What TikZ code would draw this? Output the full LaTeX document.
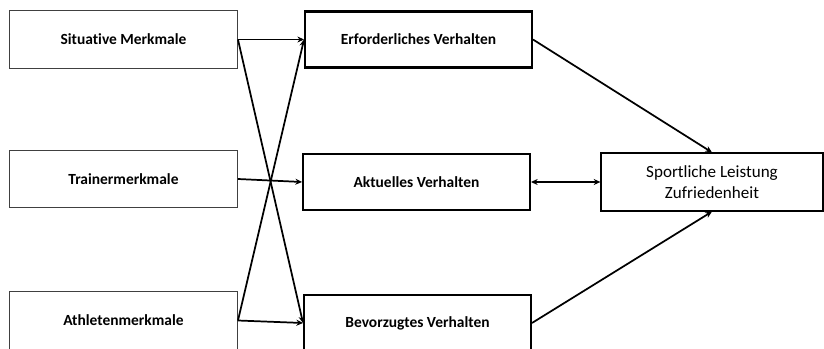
\documentclass[tikz,border=0pt]{standalone}
\usepackage{fontspec}
\setmainfont{Carlito}[Ligatures=NoCommon]
\usepackage{tikz}
\usetikzlibrary{arrows.meta}
\tikzset{
    merkmal-box/.style = {draw=black!75, line width=0.7pt, rectangle, minimum width=171pt, minimum height=43pt, font=\bfseries\fontsize{11.6}{13}\selectfont},
    verhalten-box/.style = {draw=black, line width=1.7pt, rectangle, minimum width=170pt, minimum height=42pt, font=\bfseries\fontsize{11.6}{13}\selectfont},
    ziel-box/.style = {draw=black, line width=1.4pt, rectangle, minimum width=166pt, minimum height=43pt, align=center, font=\fontsize{12.8}{15.5}\selectfont},
    pfeil/.style = {line width=1.3pt, -{Stealth[length=5pt,width=4.5pt]}},
}

\begin{document}
\begin{tikzpicture}[x=0.75pt, y=-0.75pt]
\useasboundingbox (0,0) rectangle (824,349);
% Merkmale
\node [merkmal-box] (situativ) at (123.5,39.5) {Situative Merkmale};
\node [merkmal-box] (trainer) at (123.5,179) {Trainermerkmale};
\node [merkmal-box] (athleten) at (123.5,320.5) {Athletenmerkmale};
% Verhalten
\node [verhalten-box] (erforderlich) at (418.5,39.5) {Erforderliches Verhalten};
\node [verhalten-box] (aktuell) at (416.5,182) {Aktuelles Verhalten};
\node [verhalten-box] (bevorzugt) at (417.5,323) {Bevorzugtes Verhalten};
% Ergebnis
\node [ziel-box] (leistung) at (712,182) {Sportliche Leistung\\Zufriedenheit};

\draw [pfeil] (situativ.east) -- (erforderlich.west);
\draw [pfeil] (situativ.east) -- (bevorzugt.west);
\draw [pfeil] (trainer.east) -- (aktuell.west);
\draw [pfeil] (athleten.east) -- (erforderlich.west);
\draw [pfeil] (athleten.east) -- (bevorzugt.west);
\draw [pfeil] (erforderlich.east) -- (leistung.north);
\draw [pfeil] (bevorzugt.east) -- (leistung.south);
\draw [pfeil, {Stealth[length=5pt,width=4.5pt]}-{Stealth[length=5pt,width=4.5pt]}] (aktuell.east) -- (leistung.west);
\end{tikzpicture}
\end{document}
